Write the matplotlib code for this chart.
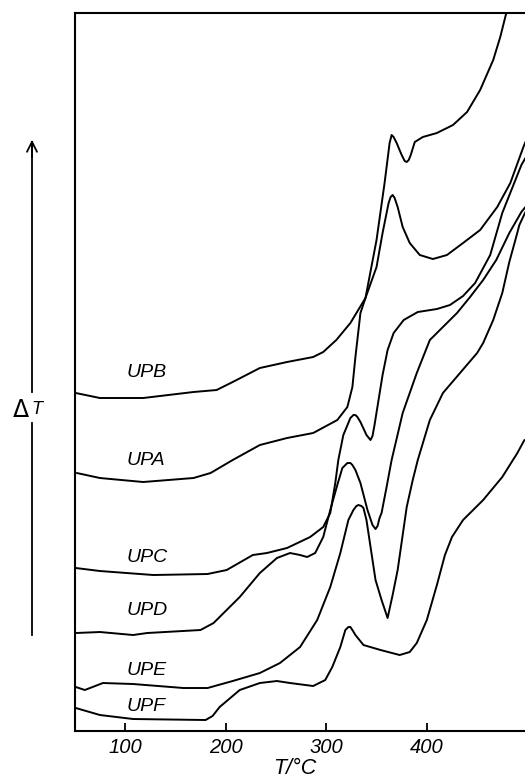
import matplotlib
matplotlib.use('Agg')
import matplotlib.pyplot as plt

# DTA curves, T in degC, delta T in arbitrary units
upb_t = [51, 75, 118, 168, 191, 207, 234, 261, 287, 297, 310, 324, 339, 350, 356, 362, 364, 366, 368,
         371, 376, 383, 393, 406, 420, 436, 453, 470, 483, 496, 498]
upb_dt = [33.8, 33.3, 33.3, 33.9, 34.1, 34.9, 36.3, 36.9, 37.4, 37.9, 39.1, 40.8, 43.3, 46.4, 49.8, 52.8, 53.4, 53.6, 53.3,
          52.4, 50.4, 48.8, 47.6, 47.2, 47.6, 48.8, 50.1, 52.4, 54.8, 58.4, 58.9]

upa_t = [52, 75, 118, 168, 185, 207, 234, 261, 287, 311, 321, 326, 329, 334, 339, 350, 358, 363, 365, 367,
         370, 375, 378, 380, 382, 384, 388, 396, 410, 426, 440, 453, 466, 473, 479]
upa_dt = [25.8, 25.3, 24.9, 25.3, 25.8, 27.1, 28.6, 29.3, 29.8, 31.1, 32.4, 34.4, 37.4, 41.8, 43.3, 49.1, 54.8, 58.8, 59.6, 59.4,
          58.8, 57.6, 57.0, 56.9, 57.1, 57.6, 58.9, 59.4, 59.8, 60.6, 61.9, 64.1, 67.1, 69.4, 71.8]

upc_t = [51, 75, 128, 182, 201, 227, 241, 261, 284, 297, 304, 309, 312, 317, 324, 327, 329, 331, 334, 340, 344,
         346, 348, 352, 356, 361, 367, 377, 391, 410, 423, 436, 448, 463, 475, 494, 498]
upc_dt = [16.3, 16.0, 15.6, 15.7, 16.1, 17.6, 17.8, 18.3, 19.4, 20.4, 21.8, 24.8, 27.1, 29.6, 31.3, 31.6, 31.6, 31.4, 30.9, 29.6, 29.1,
          29.5, 30.6, 33.1, 35.6, 38.1, 39.8, 41.1, 41.9, 42.2, 42.6, 43.5, 44.8, 47.6, 51.8, 56.6, 57.3]

upd_t = [51, 75, 108, 122, 175, 188, 214, 234, 251, 264, 274, 281, 289, 297, 304, 311, 316, 321, 324, 326,
         329, 334, 341, 346, 349, 351, 353, 355, 360, 365, 376, 390, 403, 416, 430, 443, 456, 469, 482, 494, 498]
upd_dt = [9.8, 9.9, 9.6, 9.8, 10.1, 10.8, 13.4, 15.8, 17.3, 17.8, 17.6, 17.4, 17.8, 19.4, 22.1, 24.6, 26.3, 26.8, 26.8, 26.6,
          26.1, 24.8, 22.1, 20.6, 20.2, 20.5, 21.3, 21.8, 24.4, 27.1, 31.8, 35.8, 39.1, 40.4, 41.8, 43.4, 45.1, 47.1, 49.8, 51.9, 52.4]

upe_t = [51, 60, 78, 108, 158, 182, 207, 234, 254, 274, 291, 304, 314, 322, 327, 330, 332, 335, 337, 340, 343,
         349, 355, 361, 366, 371, 376, 380, 386, 391, 403, 416, 433, 450, 456, 466, 475, 482, 488, 492, 498]
upe_dt = [4.4, 4.1, 4.8, 4.7, 4.3, 4.3, 5.0, 5.8, 6.8, 8.4, 11.1, 14.4, 17.8, 21.1, 22.1, 22.5, 22.6, 22.5, 22.3, 21.1, 19.1,
          15.1, 13.1, 11.3, 13.6, 16.1, 19.6, 22.4, 25.1, 27.1, 31.1, 33.8, 35.8, 37.8, 38.8, 41.1, 43.8, 46.9, 49.1, 50.6, 51.9]

upf_t = [51, 75, 108, 180, 187, 194, 214, 234, 251, 264, 287, 299, 306, 314, 319, 322, 324,
         326, 329, 337, 354, 373, 383, 390, 400, 410, 418, 425, 436, 456, 475, 490, 497]
upf_dt = [2.3, 1.6, 1.2, 1.1, 1.5, 2.4, 4.1, 4.8, 5.0, 4.8, 4.5, 5.1, 6.4, 8.4, 10.1, 10.4, 10.4,
          10.1, 9.6, 8.6, 8.1, 7.6, 7.9, 8.8, 11.1, 14.6, 17.6, 19.4, 21.1, 23.1, 25.4, 27.8, 29.1]

curves = [(upb_t, upb_dt), (upa_t, upa_dt), (upc_t, upc_dt),
          (upd_t, upd_dt), (upe_t, upe_dt), (upf_t, upf_dt)]

labels = ['UPB', 'UPA', 'UPC', 'UPD', 'UPE', 'UPF']
label_dt = [35.4, 26.6, 16.9, 11.6, 5.6, 2.0]
xticks = [100, 200, 300, 400]

narrow = ['Liberation Sans Narrow', 'Liberation Sans', 'DejaVu Sans']

fig = plt.figure(figsize=(5.25, 7.79), dpi=100)
ax = fig.add_axes([0.143, 0.0616, 0.857, 0.9217])

for t, dt in curves:
    ax.plot(t, dt, color='black', lw=1.4, solid_joinstyle='round', solid_capstyle='round')

for name, y in zip(labels, label_dt):
    ax.text(101, y, name, fontsize=14, fontstyle='italic', family='Liberation Sans',
            ha='left', va='baseline')

ax.set_xlim(50.3, 497.6)
ax.set_ylim(0, 71.8)
ax.set_xticks(xticks)
ax.set_xticklabels([str(v) for v in xticks], fontsize=14.5, fontstyle='italic', family=narrow)
ax.tick_params(axis='x', direction='in', length=6, width=1.3, pad=5)
ax.set_yticks([])
ax.spines['right'].set_visible(False)
for s in ['left', 'bottom', 'top']:
    ax.spines[s].set_linewidth(1.5)

fig.text(295 / 525, 1 - 768 / 779, 'T/°C', fontsize=15.5, fontstyle='italic', family=narrow,
         ha='center', va='center')

# delta T arrow on the left
fig.add_artist(plt.Line2D([32 / 525, 32 / 525], [1 - 635 / 779, 1 - 423 / 779],
                          color='black', lw=1.3))
fig.add_artist(plt.Line2D([32 / 525, 32 / 525], [1 - 392 / 779, 1 - 142 / 779],
                          color='black', lw=1.3))
ax.annotate('', xy=(32 / 525, 1 - 137 / 779), xytext=(32 / 525, 1 - 160 / 779),
            xycoords='figure fraction', textcoords='figure fraction',
            arrowprops=dict(arrowstyle='->', lw=1.3, color='black', mutation_scale=18))
fig.text(21 / 525, 1 - 410 / 779, 'Δ', fontsize=17, family='DejaVu Sans', ha='center', va='center')
fig.text(37 / 525, 1 - 410 / 779, 'T', fontsize=13, fontstyle='italic', family=narrow,
         ha='center', va='center')

fig.savefig('out.png', dpi=100)
